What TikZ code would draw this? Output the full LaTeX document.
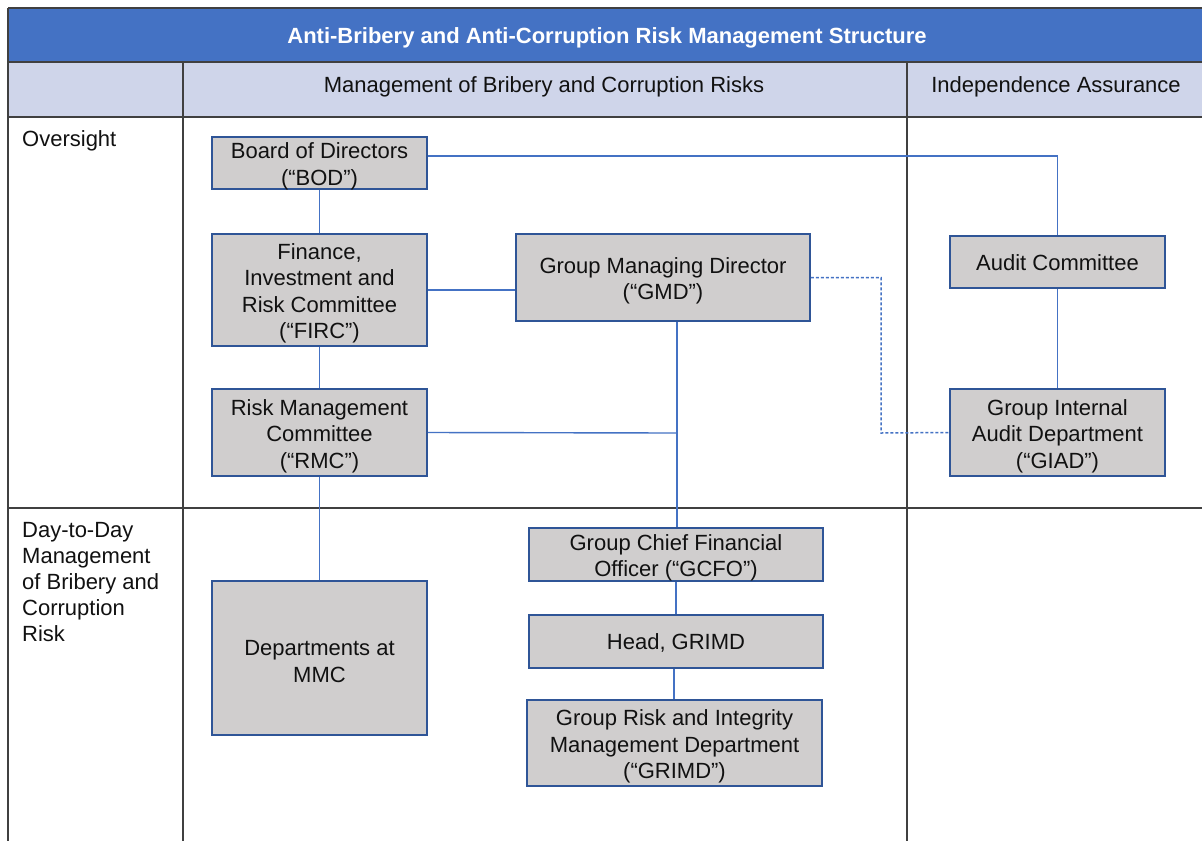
\documentclass[tikz,border=0pt]{standalone}
\usepackage{fontspec}
\setmainfont{Liberation Sans}
\definecolor{hdrblue}{HTML}{4472C4}
\definecolor{hdrlav}{HTML}{CFD5EA}
\definecolor{boxgray}{HTML}{D0CECE}
\definecolor{boxedge}{HTML}{2F5597}
\definecolor{linkblue}{HTML}{4472C4}
\definecolor{grid}{HTML}{404040}
\definecolor{txt}{HTML}{111111}
\tikzset{
  orgbox/.style={draw=boxedge, fill=boxgray, line width=1.5pt, inner sep=0pt},
  boxtext/.style={align=center, inner sep=0pt, font=\fontsize{22}{26.5}\selectfont, text=txt},
  link/.style={draw=linkblue, line width=1.4pt},
  dotlink/.style={draw=linkblue, line width=1.5pt, dash pattern=on 3pt off 2pt},
  gridline/.style={draw=grid, line width=1.8pt},
  celltext/.style={font=\fontsize{22}{26}\selectfont, text=txt, inner sep=0pt},
}
\newcommand\obox[6]{%
  \node[orgbox, minimum width=#3, minimum height=#4] (#1) at #2 {};
  \node[boxtext] (#1-t) at ([yshift=#6]#1.center) {#5};}
\begin{document}
\begin{tikzpicture}[x=1pt,y=-1pt]
\useasboundingbox (0,0) rectangle (1202,841);
\fill[white] (0,0) rectangle (1202,841);
% table
\fill[hdrblue] (8,8) rectangle (1202,62);
\fill[hdrlav] (8,62) rectangle (1202,117);
\draw[gridline] (8,8) -- (1202,8);
\draw[gridline] (8,62) -- (1202,62);
\draw[gridline] (8,117) -- (1202,117);
\draw[gridline] (8,508) -- (1202,508);
\draw[gridline] (8,8) -- (8,841);
\draw[gridline] (183,62) -- (183,841);
\draw[gridline] (907,62) -- (907,841);
\node[celltext, text=white, font=\bfseries\fontsize{22}{26}\selectfont] (title) at (607,38) {Anti-Bribery and Anti-Corruption Risk Management Structure};
\node[celltext] (h1) at (544,86.5) {Management of Bribery and Corruption Risks};
\node[celltext] (h2) at (1056,86.5) {Independence Assurance};
\node[celltext, anchor=base west] (r1) at (22,146.5) {Oversight};
\node[celltext, anchor=north west, align=left] (r2) at (22,522) {Day-to-Day\\Management\\of Bribery and\\Corruption\\Risk};
% boxes
\obox{bod}{(319.5,163)}{215pt}{52pt}{Board of Directors\\(“BOD”)}{-3.5pt}
\obox{firc}{(319.5,290)}{215pt}{112pt}{Finance,\\Investment and\\Risk Committee\\(“FIRC”)}{-3.5pt}
\obox{gmd}{(663,277.5)}{294pt}{87pt}{Group Managing Director\\(“GMD”)}{-3.5pt}
\obox{rmc}{(319.5,432.5)}{215pt}{87pt}{Risk Management\\Committee\\(“RMC”)}{-3.5pt}
\obox{ac}{(1057.5,262)}{215pt}{52pt}{Audit Committee}{-1pt}
\obox{giad}{(1057.5,432.5)}{215pt}{87pt}{Group Internal\\Audit Department\\(“GIAD”)}{-3.5pt}
\obox{gcfo}{(676,554.5)}{294pt}{53pt}{Group Chief Financial\\Officer (“GCFO”)}{-3.5pt}
\obox{head}{(676,641.5)}{294pt}{53pt}{Head, GRIMD}{-1pt}
\obox{grimd}{(674.5,743)}{295pt}{86pt}{Group Risk and Integrity\\Management Department\\(“GRIMD”)}{-3.5pt}
\obox{dept}{(319.5,658)}{215pt}{154pt}{Departments at\\MMC}{-3.5pt}
% connectors
\coordinate (spine) at (677,433);
\coordinate (dt) at (881,433);
\draw[link] ([yshift=7pt]bod.east) -| (ac.north);
\draw[link] (bod.south) -- (firc.north);
\draw[link] (firc.east) -- (firc.east -| gmd.west);
\draw[link] (firc.south) -- (rmc.north);
\draw[link] (spine |- gmd.south) -- (spine |- gcfo.north);
\draw[link] (rmc.east) -- (spine);
\draw[link] (rmc.south) -- (dept.north);
\draw[dotlink] (gmd.east) -| (dt) -- (giad.west);
\draw[link] (ac.south) -- (giad.north);
\draw[link] (gcfo.south) -- (head.north);
\draw[link] ([xshift=-2pt]head.south) -- ([xshift=-2pt]head.south |- grimd.north);
\end{tikzpicture}
\end{document}
